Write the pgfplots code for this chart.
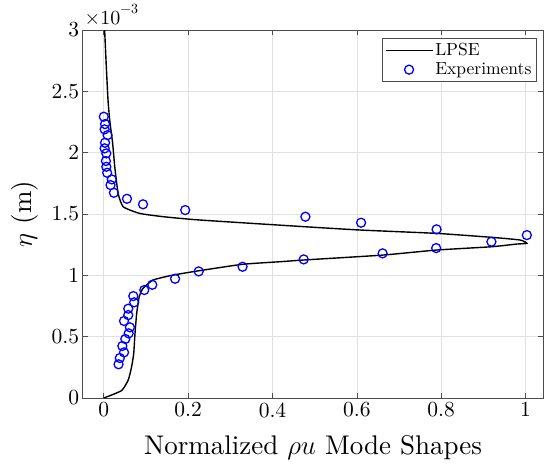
\RequirePackage{fix-cm}
\documentclass[border=0pt]{standalone}
\usepackage{fontspec}
\setmainfont{lmroman10-regular.otf}
\usepackage{pgfplots}
\pgfplotsset{compat=1.18}
\pgfplotsset{
  myline legend/.style={legend image code/.code={\draw[##1] (0pt,0pt) -- (47pt,0pt);}},
  mymark legend/.style={legend image code/.code={\draw[mark repeat=2,mark phase=2,##1] plot coordinates {(0pt,0pt) (23.5pt,0pt) (47pt,0pt)};}},
}
\begin{document}
\begin{tikzpicture}[x=1pt,y=1pt]
\useasboundingbox (0,0) rectangle (544,467);
\begin{axis}[
  at={(82.7pt,69pt)}, anchor=south west,
  scale only axis, width=460.6pt, height=368pt,
  xmin=-0.05, xmax=1.042, ymin=0, ymax=3,
  xtick={0,0.2,0.4,0.6,0.8,1}, ytick={0,0.5,1,1.5,2,2.5,3},
  /pgf/number format/assume math mode=true,
  grid=major, grid style={black!12, line width=0.6pt},
  axis line style={black!70, line width=0.7pt},
  tick align=inside, major tick length=5pt,
  tick style={black!70, line width=0.6pt},
  tick label style={font=\fontsize{21.5}{25}\selectfont},
  xticklabel style={yshift=-1pt},
  xlabel={Normalized $\rho u$ Mode Shapes},
  ylabel={$\eta$ (m)},
  label style={font=\fontsize{27}{32}\selectfont},
  xlabel style={at={(axis description cs:0.5,-0.135)}, anchor=center},
  ylabel style={at={(axis description cs:-0.125,0.5)}, anchor=center},
  legend style={at={(0.9857,0.9774)}, anchor=north east,
    draw=black!70, line width=0.6pt, fill=white,
    font=\fontsize{17.5}{21}\selectfont, inner xsep=3pt, inner ysep=3pt,
    row sep=1.5pt, nodes={inner sep=2pt}},
  legend cell align=left,
  clip=false,
]
\addplot[black, line width=1.4pt, smooth, tension=0.3, myline legend] coordinates {
(0,0) (0.042,0.06) (0.058,0.147) (0.066,0.255) (0.071,0.364) (0.074,0.527)
(0.078,0.69) (0.084,0.826) (0.093,0.894) (0.117,0.962) (0.164,1.002)
(0.225,1.037) (0.329,1.09) (0.418,1.111) (0.474,1.125) (0.661,1.165)
(0.788,1.206) (0.919,1.233) (0.979,1.255) (1.003,1.261) (0.987,1.288)
(0.919,1.31) (0.789,1.342) (0.610,1.369) (0.478,1.396) (0.228,1.451)
(0.141,1.478) (0.085,1.505) (0.046,1.559) (0.034,1.668) (0.026,1.885)
(0.021,2.076) (0.014,2.266) (0.010,2.429) (0.006,2.70) (0.002,3.0)
};
\addlegendentry{LPSE}
\addplot[only marks, mark=o, blue, mark size=4.5pt, mark options={line width=1.3pt}, mymark legend] coordinates {
(0,2.293) (0.003,2.233) (0.002,2.19) (0.009,2.143) (0.003,2.081) (0.002,2.035)
(0.006,1.994) (0.005,1.932) (0.006,1.885) (0.008,1.836) (0.019,1.782) (0.016,1.736)
(0.024,1.673) (0.055,1.624) (0.093,1.579) (0.193,1.532)
(0.478,1.478) (0.610,1.429) (0.789,1.375) (0.919,1.274) (1.003,1.328)
(0.788,1.222) (0.661,1.179) (0.474,1.130) (0.329,1.070) (0.225,1.032)
(0.169,0.972) (0.115,0.923) (0.096,0.880) (0.072,0.780) (0.070,0.831)
(0.058,0.728) (0.058,0.676) (0.048,0.628) (0.062,0.576) (0.059,0.527)
(0.051,0.481) (0.044,0.424) (0.048,0.372) (0.038,0.326) (0.035,0.275)
};
\addlegendentry{Experiments}
\node[anchor=south west, font=\fontsize{20}{24}\selectfont, inner sep=0pt] at (rel axis cs:0.004,1.014) {×10\raisebox{0.55em}{\fontsize{14}{16}\selectfont −3}};
\end{axis}
\end{tikzpicture}
\end{document}
